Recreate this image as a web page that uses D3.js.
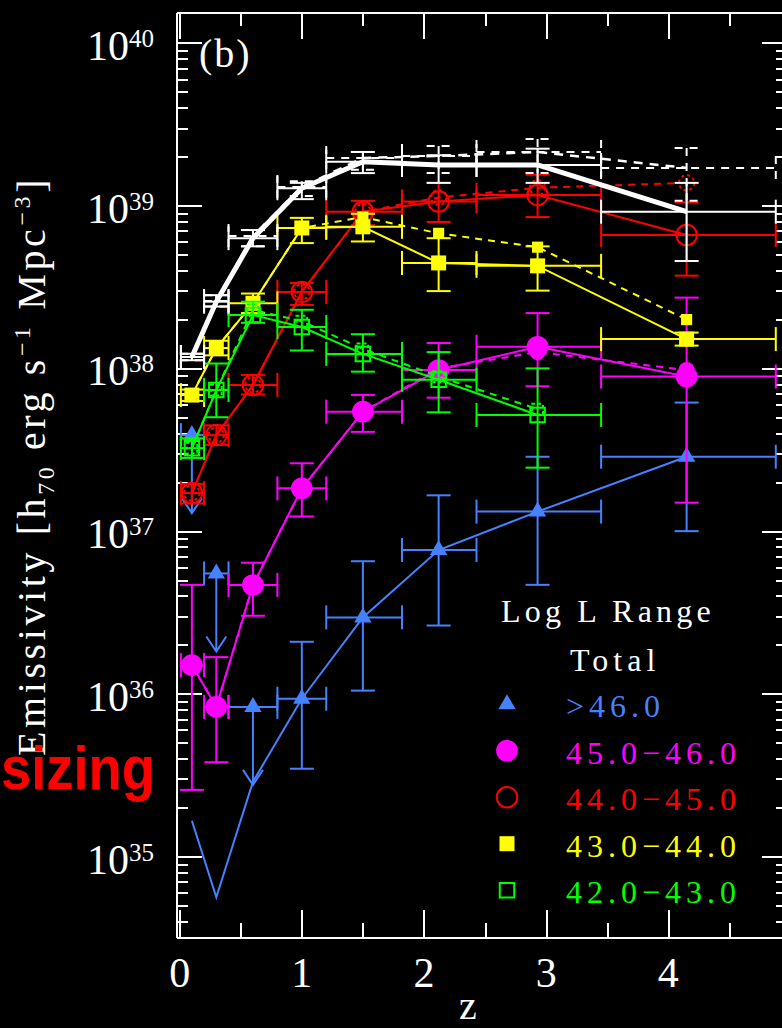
<!DOCTYPE html>
<html>
<head>
<meta charset="utf-8">
<script src="https://cdn.jsdelivr.net/npm/d3@7"></script>
<style>
  html, body { margin: 0; padding: 0; background: #000; }
  svg { display: block; }
  text { font-family: "Liberation Serif", "Times New Roman", serif; fill: #fff; }
</style>
</head>
<body>
<svg id="chart" width="782" height="1028"></svg>
<script>
// Redshift bins: centre, lower edge, upper edge
const zMid = [0.1, 0.3, 0.6, 1.0, 1.5, 2.12, 2.93, 4.15];
const zLo  = [0.01, 0.2, 0.4, 0.8, 1.2, 1.82, 2.43, 3.45];
const zHi  = [0.2, 0.4, 0.8, 1.2, 1.82, 2.43, 3.45, 4.88];

// Emissivity, log10 [h70 erg s^-1 Mpc^-3]
// Total
const totalVal   = [38.07, 38.41, 38.80, 39.107, 39.27, 39.25, 39.25, 38.963];
const totalHi    = [38.09, 38.45, 38.85, 39.14, 39.33, 39.31, 39.35, 39.14];
const totalLo    = [38.05, 38.38, 38.75, 39.04, 39.20, 39.14, 39.14, 38.66];
const totalAlt   = [38.07, 38.414, 38.814, 39.115, 39.293, 39.305, 39.33, 39.232];
const totalAltHi = [38.09, 38.45, 38.85, 39.15, 39.33, 39.367, 39.41, 39.355];
const totalAltLo = [38.05, 38.38, 38.75, 39.06, 39.22, 39.20, 39.20, 39.03];

// log L > 46.0 (first three bins are upper limits)
const l46Line  = [35.22, 34.75, 35.46, 35.97, 36.47, 36.884, 37.12, 37.457];
const l46Hi    = [null, null, null, 36.32, 36.815, 37.22, 37.457, 37.79];
const l46Lo    = [null, null, null, 35.54, 36.02, 36.42, 36.67, 37.0];
const l46Limit = [37.59, 36.74, 35.92, null, null, null, null, null];

// log L 45.0-46.0
const l45Val = [36.177, 35.92, 36.669, 37.263, 37.734, 37.99, 38.133, 37.95];
const l45Hi  = [36.67, 36.226, 36.806, 37.417, 37.837, 38.156, 38.34, 38.435];
const l45Lo  = [35.41, 35.58, 36.48, 37.09, 37.61, 37.82, 37.89, 37.175];
const l45Alt = [36.177, 35.92, 36.669, 37.263, 37.734, 38.0, 38.10, 37.99];

// log L 44.0-45.0
const l44Val = [37.234, 37.59, 37.898, 38.47, 38.963, 39.025, 39.066, 38.82];
const l44Hi  = [37.29, 37.65, 37.96, 38.525, 39.03, 39.14, 39.19, 39.02];
const l44Lo  = [37.17, 37.53, 37.84, 38.39, 38.88, 38.90, 38.93, 38.57];
const l44Alt = [37.234, 37.59, 37.898, 38.47, 38.963, 39.05, 39.11, 39.14];

// log L 43.0-44.0
const l43Val = [37.836, 38.125, 38.40, 38.863, 38.87, 38.648, 38.63, 38.18];
const l43Hi  = [37.87, 38.17, 38.46, 38.925, 38.95, 38.80, 38.75, 38.22];
const l43Lo  = [37.80, 38.08, 38.34, 38.77, 38.78, 38.475, 38.478, 38.14];
const l43Alt = [37.836, 38.125, 38.40, 38.863, 38.93, 38.83, 38.745, 38.30];

// log L 42.0-43.0 (no highest-z bin)
const l42Val = [37.51, 37.867, 38.328, 38.254, 38.089, 37.93, 37.714];
const l42Hi  = [37.57, 38.03, 38.41, 38.36, 38.21, 38.10, 38.0];
const l42Lo  = [37.45, 37.70, 38.28, 38.11, 37.98, 37.73, 37.39];
const l42Alt = [37.51, 37.867, 38.36, 38.29, 38.12, 37.95, 37.75];

// Axis ticks and legend text
const xMajorTicks = [0, 1, 2, 3, 4];
const xMinorTicks = [0.5, 1.5, 2.5, 3.5, 4.5];
const yDecades = [35, 36, 37, 38, 39, 40];
const legendTitle = "Log L Range";
const legendLabels = ["Total", ">46.0", "45.0\u221246.0", "44.0\u221245.0", "43.0\u221244.0", "42.0\u221243.0"];

// ---------------------------------------------------------------------------
const W = 782, H = 1028;
const plot = { left: 176, right: 788, top: 12, bottom: 937 };
const svg = d3.select("#chart");
svg.append("rect").attr("width", W).attr("height", H).attr("fill", "#000");

const x = d3.scaleLinear().domain([-0.03, 4.98]).range([plot.left, plot.right]);
const y = d3.scaleLog().domain([Math.pow(10, 34.506), Math.pow(10, 40.19)]).range([plot.bottom, plot.top]);
const Y = v => y(Math.pow(10, v));

svg.append("defs").append("clipPath").attr("id", "plotClip")
  .append("rect").attr("x", plot.left).attr("y", plot.top)
  .attr("width", plot.right - plot.left).attr("height", plot.bottom - plot.top);

// ---- frame and inward ticks ----
const minorY = [];
for (let d = 34; d <= 40; d++) {
  for (let m = 2; m <= 9; m++) {
    const v = m * Math.pow(10, d);
    if (v >= y.domain()[0] && v <= y.domain()[1]) minorY.push(v);
  }
}
const majorY = yDecades.map(d => Math.pow(10, d));

function ticks(gen, scale, vals, len, tr) {
  svg.append("g").attr("transform", tr)
    .call(gen(scale).tickValues(vals).tickSize(-len).tickSizeOuter(0).tickFormat(""))
    .call(g => g.selectAll("line, path").attr("stroke", "#fff").attr("stroke-width", 2)
      .attr("shape-rendering", "crispEdges"));
}
ticks(d3.axisBottom, x, xMajorTicks, 27, `translate(0,${plot.bottom})`);
ticks(d3.axisBottom, x, xMinorTicks, 14, `translate(0,${plot.bottom})`);
ticks(d3.axisTop, x, xMajorTicks, 27, `translate(0,${plot.top})`);
ticks(d3.axisTop, x, xMinorTicks, 14, `translate(0,${plot.top})`);
ticks(d3.axisLeft, y, majorY, 26, `translate(${plot.left},0)`);
ticks(d3.axisLeft, y, minorY, 12, `translate(${plot.left},0)`);
ticks(d3.axisRight, y, majorY, 26, `translate(${plot.right},0)`);
ticks(d3.axisRight, y, minorY, 12, `translate(${plot.right},0)`);

// ---- tick labels ----
svg.append("g").selectAll("text").data(xMajorTicks).join("text")
  .attr("x", d => x(d)).attr("y", 987).attr("text-anchor", "middle")
  .attr("font-size", 42).text(d => d);

const yl = svg.append("g").selectAll("text").data(yDecades).join("text")
  .attr("x", 154).attr("y", d => Y(d) + 17).attr("text-anchor", "end").attr("font-size", 42);
yl.append("tspan").text("10");
yl.append("tspan").attr("font-size", 25).attr("dy", -13).text(d => d);

// axis titles
svg.append("text").attr("x", 468).attr("y", 1019).attr("text-anchor", "middle")
  .attr("font-size", 40).text("z");

const yt = svg.append("text")
  .attr("transform", "translate(45,466) rotate(-90)")
  .attr("text-anchor", "middle").attr("font-size", 40).attr("letter-spacing", 3.6);
yt.append("tspan").text("Emissivity [h");
yt.append("tspan").attr("font-size", 24).attr("dy", 9).text("70");
yt.append("tspan").attr("dy", -9).text(" erg s");
yt.append("tspan").attr("font-size", 24).attr("dy", -15).text("\u22121");
yt.append("tspan").attr("dy", 15).text(" Mpc");
yt.append("tspan").attr("font-size", 24).attr("dy", -15).text("\u22123");
yt.append("tspan").attr("dy", 15).text("]");

svg.append("text").attr("x", 199).attr("y", 67).attr("font-size", 40)
  .attr("letter-spacing", 2).text("(b)");

// ---- data ----
const data = svg.append("g").attr("clip-path", "url(#plotClip)");

const COL = { total: "#ffffff", l46: "#4682ff", l45: "#ff00ff", l44: "#ff0000", l43: "#ffff00", l42: "#00ff00" };

const shapes = {
  l46: { type: d3.symbolTriangle, size: 130, fill: true },
  l45: { type: d3.symbolCircle, size: 370, fill: true },
  l44: { type: d3.symbolCircle, size: 330, fill: false },
  l43: { type: d3.symbolSquare, size: 225, fill: true },
  l42: { type: d3.symbolSquare, size: 210, fill: false }
};

function drawMarker(g, shape, color, cx, cy, scale, dash) {
  const p = g.append("path")
    .attr("d", d3.symbol().type(shape.type).size(shape.size * (scale || 1))())
    .attr("transform", `translate(${cx},${cy})`);
  if (shape.fill) p.attr("fill", color).attr("stroke", "none");
  else {
    p.attr("fill", "none").attr("stroke", color).attr("stroke-width", 2);
    if (dash) p.attr("stroke-dasharray", dash);
  }
}

const CAP = 12;
function errorBars(g, color, zi, v, hi, lo, dash, width) {
  const cx = x(zMid[zi]), cy = Y(v);
  const s = g.append("g").attr("stroke", color).attr("stroke-width", width || 2)
    .attr("fill", "none");
  if (dash) s.attr("stroke-dasharray", dash);
  const xl = x(zLo[zi]), xr = x(zHi[zi]);
  s.append("line").attr("x1", xl).attr("x2", xr).attr("y1", cy).attr("y2", cy);
  s.append("line").attr("x1", xl).attr("x2", xl).attr("y1", cy - CAP).attr("y2", cy + CAP);
  s.append("line").attr("x1", xr).attr("x2", xr).attr("y1", cy - CAP).attr("y2", cy + CAP);
  if (hi != null && lo != null) {
    const yh = Y(hi), yb = Y(lo);
    s.append("line").attr("x1", cx).attr("x2", cx).attr("y1", yh).attr("y2", yb);
    s.append("line").attr("x1", cx - CAP).attr("x2", cx + CAP).attr("y1", yh).attr("y2", yh);
    s.append("line").attr("x1", cx - CAP).attr("x2", cx + CAP).attr("y1", yb).attr("y2", yb);
  }
}

const lineGen = d3.line().x(d => x(d[0])).y(d => Y(d[1]));
function pathOf(vals) { return vals.map((v, i) => [zMid[i], v]); }

function drawSeries(key, val, hi, lo, alt) {
  const color = COL[key], g = data.append("g");
  // alternative estimate: dashed line, small markers
  if (alt) {
    g.append("path").attr("d", lineGen(pathOf(alt))).attr("fill", "none")
      .attr("stroke", color).attr("stroke-width", 2).attr("stroke-dasharray", "7,6");
    alt.forEach((v, i) => drawMarker(g, shapes[key], color, x(zMid[i]), Y(v), 0.55, "3,3"));
  }
  g.append("path").attr("d", lineGen(pathOf(val))).attr("fill", "none")
    .attr("stroke", color).attr("stroke-width", 2);
  val.forEach((v, i) => {
    errorBars(g, color, i, v, hi[i], lo[i]);
    drawMarker(g, shapes[key], color, x(zMid[i]), Y(v));
  });
}

// log L > 46.0: line through best estimates, upper-limit arrows at low z
(function () {
  const color = COL.l46, g = data.append("g");
  g.append("path").attr("d", lineGen(pathOf(l46Line))).attr("fill", "none")
    .attr("stroke", color).attr("stroke-width", 2);
  l46Line.forEach((v, i) => {
    if (l46Limit[i] != null) {
      const cx = x(zMid[i]), cy = Y(l46Limit[i]), tip = cy + 78;
      errorBars(g, color, i, l46Limit[i], null, null);
      g.append("path").attr("d", `M${cx},${cy}V${tip}M${cx - 10},${tip - 15}L${cx},${tip}L${cx + 10},${tip - 15}`)
        .attr("fill", "none").attr("stroke", color).attr("stroke-width", 2);
      drawMarker(g, shapes.l46, color, cx, cy);
    } else {
      errorBars(g, color, i, v, l46Hi[i], l46Lo[i]);
      drawMarker(g, shapes.l46, color, x(zMid[i]), Y(v));
    }
  });
})();

drawSeries("l45", l45Val, l45Hi, l45Lo, l45Alt);
drawSeries("l44", l44Val, l44Hi, l44Lo, l44Alt);
drawSeries("l43", l43Val, l43Hi, l43Lo, l43Alt);
drawSeries("l42", l42Val, l42Hi, l42Lo, l42Alt);

// Total: thick solid curve plus dashed alternative
(function () {
  const g = data.append("g");
  totalAlt.forEach((v, i) => errorBars(g, COL.total, i, v, totalAltHi[i], totalAltLo[i], "8,7"));
  g.append("path").attr("d", lineGen(pathOf(totalAlt))).attr("fill", "none")
    .attr("stroke", COL.total).attr("stroke-width", 2.5).attr("stroke-dasharray", "9,7");
  totalVal.forEach((v, i) => errorBars(g, COL.total, i, v, totalHi[i], totalLo[i]));
  g.append("path").attr("d", lineGen(pathOf(totalVal))).attr("fill", "none")
    .attr("stroke", COL.total).attr("stroke-width", 5).attr("stroke-linejoin", "round");
})();

// ---- legend ----
const lg = svg.append("g");
lg.append("text").attr("x", 501).attr("y", 621.7).attr("font-size", 32)
  .attr("letter-spacing", 4.2).text(legendTitle);
const legendKeys = ["total", "l46", "l45", "l44", "l43", "l42"];
legendLabels.forEach((lab, i) => {
  const by = 670.7 + i * 46.5;
  lg.append("text").attr("x", i === 0 ? 570 : 566).attr("y", by).attr("font-size", 32)
    .attr("letter-spacing", 5).style("fill", COL[legendKeys[i]]).text(lab);
  if (i > 0) drawMarker(lg, shapes[legendKeys[i]], COL[legendKeys[i]], 507, by - 13, 1);
});

// ---- overlay label ----
svg.append("text").attr("x", 1).attr("y", 789)
  .attr("textLength", 154).attr("lengthAdjust", "spacingAndGlyphs")
  .style("font-family", "'Liberation Sans', Arial, sans-serif").attr("font-weight", "bold")
  .attr("font-size", 62).style("fill", "#ff0000").text("sizing");
</script>
</body>
</html>
